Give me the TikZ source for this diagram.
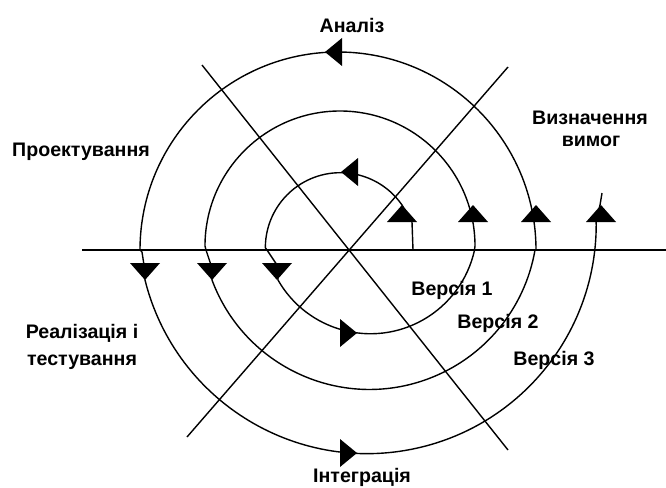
\documentclass[tikz,border=0pt]{standalone}
\usepackage{fontspec}
\setmainfont{Liberation Sans}
\begin{document}
\begin{tikzpicture}[x=1pt,y=-1pt,
  lbl/.style={font=\bfseries\fontsize{19.6}{22}\selectfont, anchor=base, inner sep=0pt},
  spiral/.style={line width=1.4pt, line join=round},
  axisline/.style={line width=1.8pt},
  pics/uptri/.style={code={\fill (-15,17) -- (15,17) -- (0,0) -- cycle;}},
  pics/downtri/.style={code={\fill (-15,-17) -- (15,-17) -- (0,0) -- cycle;}},
  pics/lefttri/.style={code={\fill (17,-14) -- (17,14) -- (0,0) -- cycle;}},
  pics/righttri/.style={code={\fill (-17,-14) -- (-17,14) -- (0,0) -- cycle;}}
]
\fill[white] (0,0) rectangle (666,487);
\useasboundingbox (0,0) rectangle (666,487);

% axes
\draw[axisline] (82,250) -- (666,250);
\draw[spiral] (202,65) -- (508,450);
\draw[spiral] (508,67) -- (187,437);

% spiral
\draw[spiral] (413,250) -- (412,222) -- (402,205)
  arc[start angle=-34.7, end angle=-180, radius=75]
  -- (267,250) -- (277,265) -- (278,280)
  arc[start angle=150.3, end angle=12.6, radius=106.5]
  -- (475,246)
  arc[start angle=0, end angle=-180, radius=135]
  -- (206,250) -- (211,265) -- (212,280)
  arc[start angle=159.6, end angle=9.8, radius=168]
  -- (536,250)
  arc[start angle=0, end angle=-180, radius=198]
  -- (142,252) -- (144,265) -- (145,280)
  arc[start angle=166, end angle=-1, radius=229]
  -- (600,205) -- (602,193);

% arrowheads
\pic at (402,205) {uptri};
\pic at (473,205) {uptri};
\pic at (536,205) {uptri};
\pic at (601,205) {uptri};
\pic at (145,280) {downtri};
\pic at (212,280) {downtri};
\pic at (277,280) {downtri};
\pic at (341,172) {lefttri};
\pic at (325,52) {lefttri};
\pic at (357,333) {righttri};
\pic at (357,453) {righttri};

% labels
\node[lbl] (an) at (352,33) {Аналіз};
\node[lbl] (vz1) at (590,124) {Визначення};
\node[lbl] (vz2) at (591,146) {вимог};
\node[lbl] (pr) at (81,156) {Проектування};
\node[lbl] (re1) at (82,338) {Реалізація і};
\node[lbl] (re2) at (82,365) {тестування};
\node[lbl] (v1) at (452,295) {Версія 1};
\node[lbl] (v2) at (498,328) {Версія 2};
\node[lbl] (v3) at (554,365) {Версія 3};
\node[lbl] (in) at (362,482) {Інтеграція};
\end{tikzpicture}
\end{document}
